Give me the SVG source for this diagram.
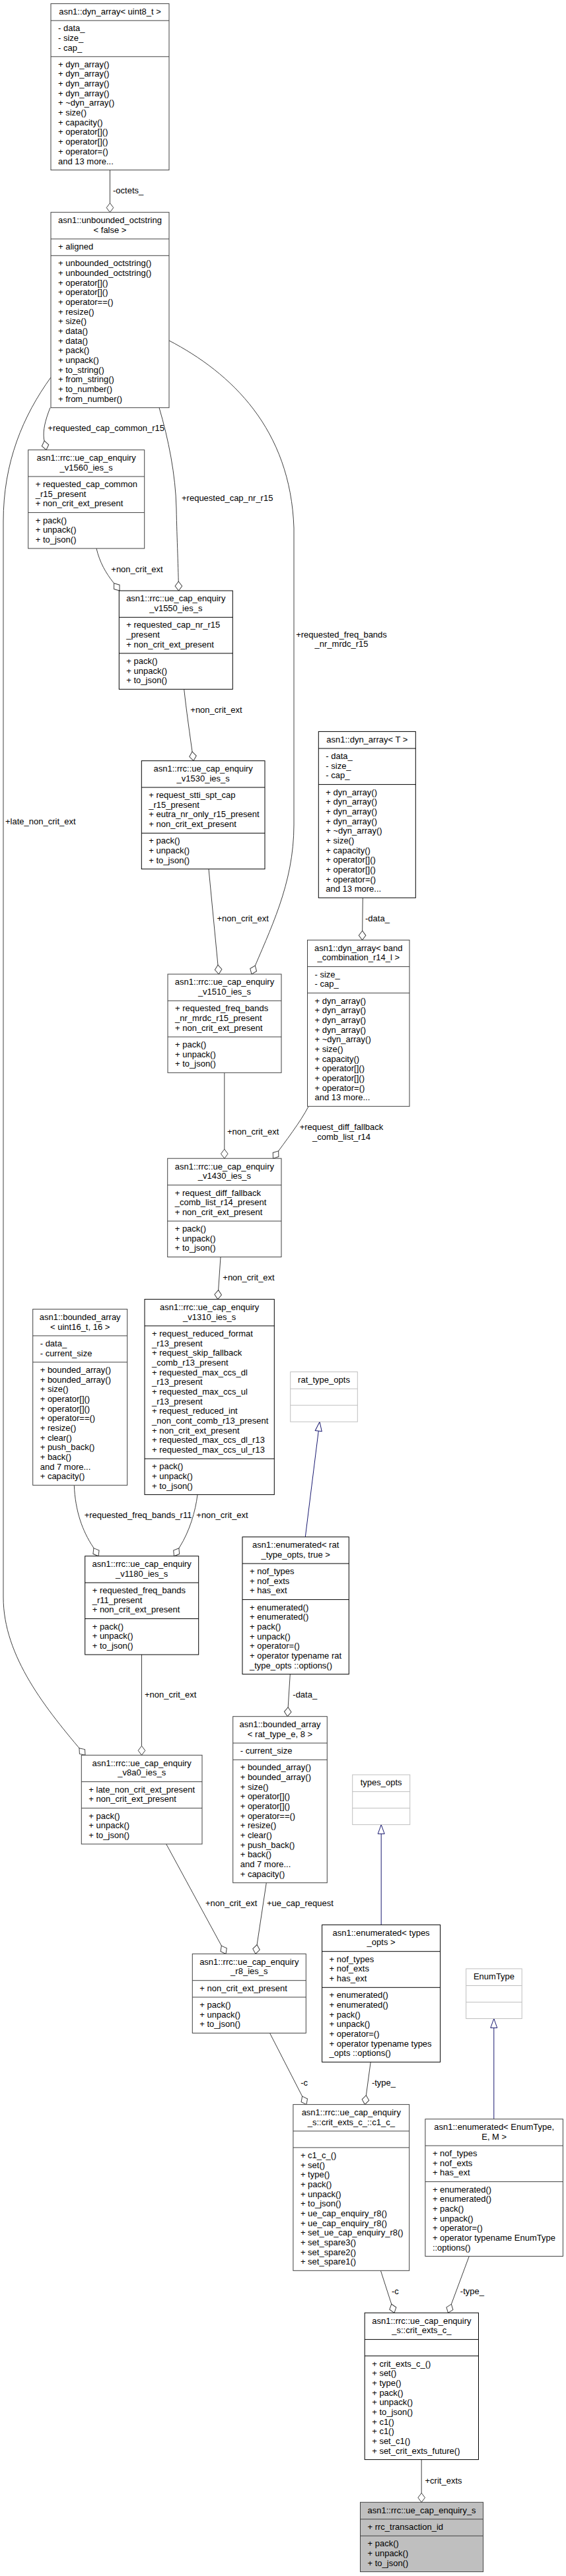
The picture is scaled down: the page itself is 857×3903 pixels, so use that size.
<svg xmlns="http://www.w3.org/2000/svg" width="857" height="3903" viewBox="0 0 857 3903">
<style>
text{font-family:"Liberation Sans",Arial,Helvetica,sans-serif;font-size:13px;fill:#000}
.t{text-anchor:middle}
.k rect,.k path{fill:#fff;stroke:#000;stroke-width:1}
.d rect,.d path{fill:#fff;stroke:#404040;stroke-width:1}
.u rect,.u path{fill:#fff;stroke:#bfbfbf;stroke-width:1}
.r rect{fill:#bfbfbf;stroke:#404040;stroke-width:1}
.r path{fill:none;stroke:#404040;stroke-width:1}
.e{fill:none;stroke:#404040;stroke-width:1;marker-end:url(#dia)}
.i{fill:none;stroke:#191970;stroke-width:1;marker-end:url(#tri)}
</style>
<defs>
<marker id="dia" viewBox="-1 -7 16 14" refX="14" refY="0" markerWidth="16" markerHeight="14" markerUnits="userSpaceOnUse" orient="auto">
<path d="M0,0L7,-5.3L14,0L7,5.3Z" fill="#fff" stroke="#404040" stroke-width="1"/>
</marker>
<marker id="tri" viewBox="-1 -7 16 14" refX="14" refY="0" markerWidth="16" markerHeight="14" markerUnits="userSpaceOnUse" orient="auto">
<path d="M0,-5L14,0L0,5Z" fill="#fff" stroke="#191970" stroke-width="1"/>
</marker>
</defs>
<rect x="0" y="0" width="857" height="3903" fill="#fff"/>

<g id="connectors">
<path class="e" d="M166.5,257.6V321.7"/>
<text x="171" y="293">-octets_</text>
<path class="e" d="M76,617.7C68,638 65,652 66.5,665L70,681.7"/>
<text x="72.3" y="653">+requested_cap_common_r15</text>
<path class="e" d="M241,617.7C255,665 266,720 267,770C268,820 270,860 270.5,895"/>
<text x="275" y="759.3">+requested_cap_nr_r15</text>
<path class="e" d="M146,831C151,852 160,868 172,883L181,895"/>
<text x="168.3" y="867">+non_crit_ext</text>
<path class="e" d="M278.7,1044.3C282,1075 287,1110 293,1152.7"/>
<text x="288.3" y="1080">+non_crit_ext</text>
<path class="e" d="M256,516C350,565 440,650 445,800L445,1250C445,1340 408,1410 381,1476"/>
<text class="t" x="517" y="965.6"><tspan x="517">+requested_freq_bands</tspan><tspan x="517" dy="14.67">_nr_mrdc_r15</tspan></text>
<path class="e" d="M316,1316.7L331.3,1476"/>
<text x="328.5" y="1396">+non_crit_ext</text>
<path class="e" d="M549.3,1360.3L548.5,1424.3"/>
<text x="553" y="1396">-data_</text>
<path class="e" d="M339.8,1625.3V1755.2"/>
<text x="344" y="1718.6">+non_crit_ext</text>
<path class="e" d="M467,1676.5C455,1700 433,1728 413.5,1755.2"/>
<text class="t" x="517" y="1712"><tspan x="517">+request_diff_fallback</tspan><tspan x="517" dy="14.67">_comb_list_r14</tspan></text>
<path class="e" d="M334,1904.5L329.7,1968.6"/>
<text x="337.3" y="1939.7">+non_crit_ext</text>
<path class="e" d="M77,571.7C35,630 5,700 5,790L5,2420C5,2510 70,2590 129,2659.3"/>
<text x="8" y="1249">+late_non_crit_ext</text>
<path class="e" d="M112.3,2250.3C114,2290 125,2320 141,2344L149,2357.7"/>
<text x="127.7" y="2300">+requested_freq_bands_r11</text>
<path class="e" d="M299,2264.6C296,2290 287,2320 272,2344L263.5,2357.7"/>
<text x="297.3" y="2300">+non_crit_ext</text>
<path class="i" d="M462.3,2328.7L484,2154.2"/>
<path class="e" d="M439.3,2536.6L435.3,2600.7"/>
<text x="443.3" y="2572">-data_</text>
<path class="e" d="M214.5,2507V2659.3"/>
<text x="219" y="2572">+non_crit_ext</text>
<path class="e" d="M251.7,2794L342,2960.4"/>
<text x="311" y="2888">+non_crit_ext</text>
<path class="e" d="M403.3,2852.7L387,2960.4"/>
<text x="404" y="2888">+ue_cap_request</text>
<path class="i" d="M577.2,2916.4V2764.6"/>
<path class="e" d="M408.5,3080.4L464,3188.6"/>
<text x="455.2" y="3160.3">-c</text>
<path class="e" d="M561.2,3124.3L552.5,3188.6"/>
<text x="562.9" y="3160.3">-type_</text>
<path class="i" d="M747.8,3210.7V3058.5"/>
<path class="e" d="M576.4,3440.3L597,3504.3"/>
<text x="593" y="3476">-c</text>
<path class="e" d="M710.3,3418.6L678.5,3504.3"/>
<text x="696.8" y="3476">-type_</text>
<path class="e" d="M638.2,3726.6V3791.3"/>
<text x="643.5" y="3763">+crit_exts</text>
</g>

<g id="dyn_array_uint8" class="d">
<rect x="77" y="5.6" width="179" height="252"/>
<path d="M77,31.2H256M77,85.8H256"/>
<text class="t" x="166.5" y="21.9">asn1::dyn_array&lt; uint8_t &gt;</text>
<text x="88" y="47.2"><tspan x="88">- data_</tspan><tspan x="88" dy="14.67">- size_</tspan><tspan x="88" dy="14.67">- cap_</tspan></text>
<text x="88" y="101.8"><tspan x="88">+ dyn_array()</tspan><tspan x="88" dy="14.67">+ dyn_array()</tspan><tspan x="88" dy="14.67">+ dyn_array()</tspan><tspan x="88" dy="14.67">+ dyn_array()</tspan><tspan x="88" dy="14.67">+ ~dyn_array()</tspan><tspan x="88" dy="14.67">+ size()</tspan><tspan x="88" dy="14.67">+ capacity()</tspan><tspan x="88" dy="14.67">+ operator[]()</tspan><tspan x="88" dy="14.67">+ operator[]()</tspan><tspan x="88" dy="14.67">+ operator=()</tspan><tspan x="88" dy="14.67">and 13 more...</tspan></text>
</g>

<g id="unbounded_octstring" class="d">
<rect x="77" y="321.7" width="179" height="296"/>
<path d="M77,362H256M77,387.3H256"/>
<text class="t" x="166.5" y="338"><tspan x="166.5">asn1::unbounded_octstring</tspan><tspan x="166.5" dy="14.67">&lt; false &gt;</tspan></text>
<text x="88" y="378">+ aligned</text>
<text x="88" y="403.3"><tspan x="88">+ unbounded_octstring()</tspan><tspan x="88" dy="14.67">+ unbounded_octstring()</tspan><tspan x="88" dy="14.67">+ operator[]()</tspan><tspan x="88" dy="14.67">+ operator[]()</tspan><tspan x="88" dy="14.67">+ operator==()</tspan><tspan x="88" dy="14.67">+ resize()</tspan><tspan x="88" dy="14.67">+ size()</tspan><tspan x="88" dy="14.67">+ data()</tspan><tspan x="88" dy="14.67">+ data()</tspan><tspan x="88" dy="14.67">+ pack()</tspan><tspan x="88" dy="14.67">+ unpack()</tspan><tspan x="88" dy="14.67">+ to_string()</tspan><tspan x="88" dy="14.67">+ from_string()</tspan><tspan x="88" dy="14.67">+ to_number()</tspan><tspan x="88" dy="14.67">+ from_number()</tspan></text>
</g>

<g id="v1560_ies" class="d">
<rect x="42.7" y="681.7" width="176" height="149.3"/>
<path d="M42.7,722H218.7M42.7,776.6H218.7"/>
<text class="t" x="130.7" y="698"><tspan x="130.7">asn1::rrc::ue_cap_enquiry</tspan><tspan x="130.7" dy="14.67">_v1560_ies_s</tspan></text>
<text x="53.7" y="738"><tspan x="53.7">+ requested_cap_common</tspan><tspan x="53.7" dy="14.67">_r15_present</tspan><tspan x="53.7" dy="14.67">+ non_crit_ext_present</tspan></text>
<text x="53.7" y="792.6"><tspan x="53.7">+ pack()</tspan><tspan x="53.7" dy="14.67">+ unpack()</tspan><tspan x="53.7" dy="14.67">+ to_json()</tspan></text>
</g>

<g id="v1550_ies" class="k">
<rect x="180.3" y="895" width="172" height="149.3"/>
<path d="M180.3,935.3H352.3M180.3,989.9H352.3"/>
<text class="t" x="266.3" y="911.3"><tspan x="266.3">asn1::rrc::ue_cap_enquiry</tspan><tspan x="266.3" dy="14.67">_v1550_ies_s</tspan></text>
<text x="191.3" y="951.3"><tspan x="191.3">+ requested_cap_nr_r15</tspan><tspan x="191.3" dy="14.67">_present</tspan><tspan x="191.3" dy="14.67">+ non_crit_ext_present</tspan></text>
<text x="191.3" y="1005.9"><tspan x="191.3">+ pack()</tspan><tspan x="191.3" dy="14.67">+ unpack()</tspan><tspan x="191.3" dy="14.67">+ to_json()</tspan></text>
</g>

<g id="v1530_ies" class="k">
<rect x="214.3" y="1152.7" width="186.7" height="164"/>
<path d="M214.3,1193H401M214.3,1262.3H401"/>
<text class="t" x="307.7" y="1169"><tspan x="307.7">asn1::rrc::ue_cap_enquiry</tspan><tspan x="307.7" dy="14.67">_v1530_ies_s</tspan></text>
<text x="225.3" y="1209"><tspan x="225.3">+ request_stti_spt_cap</tspan><tspan x="225.3" dy="14.67">_r15_present</tspan><tspan x="225.3" dy="14.67">+ eutra_nr_only_r15_present</tspan><tspan x="225.3" dy="14.67">+ non_crit_ext_present</tspan></text>
<text x="225.3" y="1278.3"><tspan x="225.3">+ pack()</tspan><tspan x="225.3" dy="14.67">+ unpack()</tspan><tspan x="225.3" dy="14.67">+ to_json()</tspan></text>
</g>

<g id="dyn_array_T" class="k">
<rect x="482.3" y="1108.4" width="147" height="251.9"/>
<path d="M482.3,1134H629.3M482.3,1188.6H629.3"/>
<text class="t" x="555.8" y="1124.7">asn1::dyn_array&lt; T &gt;</text>
<text x="493.3" y="1150"><tspan x="493.3">- data_</tspan><tspan x="493.3" dy="14.67">- size_</tspan><tspan x="493.3" dy="14.67">- cap_</tspan></text>
<text x="493.3" y="1204.6"><tspan x="493.3">+ dyn_array()</tspan><tspan x="493.3" dy="14.67">+ dyn_array()</tspan><tspan x="493.3" dy="14.67">+ dyn_array()</tspan><tspan x="493.3" dy="14.67">+ dyn_array()</tspan><tspan x="493.3" dy="14.67">+ ~dyn_array()</tspan><tspan x="493.3" dy="14.67">+ size()</tspan><tspan x="493.3" dy="14.67">+ capacity()</tspan><tspan x="493.3" dy="14.67">+ operator[]()</tspan><tspan x="493.3" dy="14.67">+ operator[]()</tspan><tspan x="493.3" dy="14.67">+ operator=()</tspan><tspan x="493.3" dy="14.67">and 13 more...</tspan></text>
</g>

<g id="dyn_array_band_combination" class="d">
<rect x="465.5" y="1424.3" width="154.5" height="252"/>
<path d="M465.5,1464.6H620M465.5,1504.6H620"/>
<text class="t" x="542.8" y="1440.6"><tspan x="542.8">asn1::dyn_array&lt; band</tspan><tspan x="542.8" dy="14.67">_combination_r14_l &gt;</tspan></text>
<text x="476.5" y="1480.6"><tspan x="476.5">- size_</tspan><tspan x="476.5" dy="14.67">- cap_</tspan></text>
<text x="476.5" y="1520.6"><tspan x="476.5">+ dyn_array()</tspan><tspan x="476.5" dy="14.67">+ dyn_array()</tspan><tspan x="476.5" dy="14.67">+ dyn_array()</tspan><tspan x="476.5" dy="14.67">+ dyn_array()</tspan><tspan x="476.5" dy="14.67">+ ~dyn_array()</tspan><tspan x="476.5" dy="14.67">+ size()</tspan><tspan x="476.5" dy="14.67">+ capacity()</tspan><tspan x="476.5" dy="14.67">+ operator[]()</tspan><tspan x="476.5" dy="14.67">+ operator[]()</tspan><tspan x="476.5" dy="14.67">+ operator=()</tspan><tspan x="476.5" dy="14.67">and 13 more...</tspan></text>
</g>

<g id="v1510_ies" class="d">
<rect x="254" y="1476" width="172" height="149.3"/>
<path d="M254,1516.3H426M254,1571H426"/>
<text class="t" x="340" y="1492.3"><tspan x="340">asn1::rrc::ue_cap_enquiry</tspan><tspan x="340" dy="14.67">_v1510_ies_s</tspan></text>
<text x="265" y="1532.3"><tspan x="265">+ requested_freq_bands</tspan><tspan x="265" dy="14.67">_nr_mrdc_r15_present</tspan><tspan x="265" dy="14.67">+ non_crit_ext_present</tspan></text>
<text x="265" y="1587"><tspan x="265">+ pack()</tspan><tspan x="265" dy="14.67">+ unpack()</tspan><tspan x="265" dy="14.67">+ to_json()</tspan></text>
</g>

<g id="v1430_ies" class="d">
<rect x="253.7" y="1755.2" width="172.3" height="149.3"/>
<path d="M253.7,1795.5H426M253.7,1850.1H426"/>
<text class="t" x="339.9" y="1771.5"><tspan x="339.9">asn1::rrc::ue_cap_enquiry</tspan><tspan x="339.9" dy="14.67">_v1430_ies_s</tspan></text>
<text x="264.7" y="1811.5"><tspan x="264.7">+ request_diff_fallback</tspan><tspan x="264.7" dy="14.67">_comb_list_r14_present</tspan><tspan x="264.7" dy="14.67">+ non_crit_ext_present</tspan></text>
<text x="264.7" y="1866.1"><tspan x="264.7">+ pack()</tspan><tspan x="264.7" dy="14.67">+ unpack()</tspan><tspan x="264.7" dy="14.67">+ to_json()</tspan></text>
</g>

<g id="v1310_ies" class="k">
<rect x="219" y="1968.6" width="196.3" height="296"/>
<path d="M219,2008.9H415.3M219,2210.2H415.3"/>
<text class="t" x="317.2" y="1984.9"><tspan x="317.2">asn1::rrc::ue_cap_enquiry</tspan><tspan x="317.2" dy="14.67">_v1310_ies_s</tspan></text>
<text x="230" y="2024.9"><tspan x="230">+ request_reduced_format</tspan><tspan x="230" dy="14.67">_r13_present</tspan><tspan x="230" dy="14.67">+ request_skip_fallback</tspan><tspan x="230" dy="14.67">_comb_r13_present</tspan><tspan x="230" dy="14.67">+ requested_max_ccs_dl</tspan><tspan x="230" dy="14.67">_r13_present</tspan><tspan x="230" dy="14.67">+ requested_max_ccs_ul</tspan><tspan x="230" dy="14.67">_r13_present</tspan><tspan x="230" dy="14.67">+ request_reduced_int</tspan><tspan x="230" dy="14.67">_non_cont_comb_r13_present</tspan><tspan x="230" dy="14.67">+ non_crit_ext_present</tspan><tspan x="230" dy="14.67">+ requested_max_ccs_dl_r13</tspan><tspan x="230" dy="14.67">+ requested_max_ccs_ul_r13</tspan></text>
<text x="230" y="2226.2"><tspan x="230">+ pack()</tspan><tspan x="230" dy="14.67">+ unpack()</tspan><tspan x="230" dy="14.67">+ to_json()</tspan></text>
</g>

<g id="bounded_array_uint16" class="d">
<rect x="49.7" y="1983.6" width="143" height="266.7"/>
<path d="M49.7,2023.9H192.7M49.7,2063.9H192.7"/>
<text class="t" x="121.2" y="1999.9"><tspan x="121.2">asn1::bounded_array</tspan><tspan x="121.2" dy="14.67">&lt; uint16_t, 16 &gt;</tspan></text>
<text x="60.7" y="2039.9"><tspan x="60.7">- data_</tspan><tspan x="60.7" dy="14.67">- current_size</tspan></text>
<text x="60.7" y="2079.9"><tspan x="60.7">+ bounded_array()</tspan><tspan x="60.7" dy="14.67">+ bounded_array()</tspan><tspan x="60.7" dy="14.67">+ size()</tspan><tspan x="60.7" dy="14.67">+ operator[]()</tspan><tspan x="60.7" dy="14.67">+ operator[]()</tspan><tspan x="60.7" dy="14.67">+ operator==()</tspan><tspan x="60.7" dy="14.67">+ resize()</tspan><tspan x="60.7" dy="14.67">+ clear()</tspan><tspan x="60.7" dy="14.67">+ push_back()</tspan><tspan x="60.7" dy="14.67">+ back()</tspan><tspan x="60.7" dy="14.67">and 7 more...</tspan><tspan x="60.7" dy="14.67">+ capacity()</tspan></text>
</g>

<g id="rat_type_opts" class="u">
<rect x="439.7" y="2078.6" width="101.6" height="75.6"/>
<path d="M439.7,2104.2H541.3M439.7,2129.2H541.3"/>
<text class="t" x="490.5" y="2094.9">rat_type_opts</text>
</g>

<g id="enumerated_rat_type_opts" class="k">
<rect x="367" y="2328.7" width="161.3" height="207.9"/>
<path d="M367,2369H528.3M367,2423.6H528.3"/>
<text class="t" x="447.7" y="2345"><tspan x="447.7">asn1::enumerated&lt; rat</tspan><tspan x="447.7" dy="14.67">_type_opts, true &gt;</tspan></text>
<text x="378" y="2385"><tspan x="378">+ nof_types</tspan><tspan x="378" dy="14.67">+ nof_exts</tspan><tspan x="378" dy="14.67">+ has_ext</tspan></text>
<text x="378" y="2439.6"><tspan x="378">+ enumerated()</tspan><tspan x="378" dy="14.67">+ enumerated()</tspan><tspan x="378" dy="14.67">+ pack()</tspan><tspan x="378" dy="14.67">+ unpack()</tspan><tspan x="378" dy="14.67">+ operator=()</tspan><tspan x="378" dy="14.67">+ operator typename rat</tspan><tspan x="378" dy="14.67">_type_opts ::options()</tspan></text>
</g>

<g id="v1180_ies" class="k">
<rect x="128.7" y="2357.7" width="172" height="149.3"/>
<path d="M128.7,2398H300.7M128.7,2452.6H300.7"/>
<text class="t" x="214.7" y="2374"><tspan x="214.7">asn1::rrc::ue_cap_enquiry</tspan><tspan x="214.7" dy="14.67">_v1180_ies_s</tspan></text>
<text x="139.7" y="2414"><tspan x="139.7">+ requested_freq_bands</tspan><tspan x="139.7" dy="14.67">_r11_present</tspan><tspan x="139.7" dy="14.67">+ non_crit_ext_present</tspan></text>
<text x="139.7" y="2468.6"><tspan x="139.7">+ pack()</tspan><tspan x="139.7" dy="14.67">+ unpack()</tspan><tspan x="139.7" dy="14.67">+ to_json()</tspan></text>
</g>

<g id="bounded_array_rat_type_e" class="d">
<rect x="352.7" y="2600.7" width="142.6" height="252"/>
<path d="M352.7,2641H495.3M352.7,2666.3H495.3"/>
<text class="t" x="424" y="2617"><tspan x="424">asn1::bounded_array</tspan><tspan x="424" dy="14.67">&lt; rat_type_e, 8 &gt;</tspan></text>
<text x="363.7" y="2657">- current_size</text>
<text x="363.7" y="2682.3"><tspan x="363.7">+ bounded_array()</tspan><tspan x="363.7" dy="14.67">+ bounded_array()</tspan><tspan x="363.7" dy="14.67">+ size()</tspan><tspan x="363.7" dy="14.67">+ operator[]()</tspan><tspan x="363.7" dy="14.67">+ operator[]()</tspan><tspan x="363.7" dy="14.67">+ operator==()</tspan><tspan x="363.7" dy="14.67">+ resize()</tspan><tspan x="363.7" dy="14.67">+ clear()</tspan><tspan x="363.7" dy="14.67">+ push_back()</tspan><tspan x="363.7" dy="14.67">+ back()</tspan><tspan x="363.7" dy="14.67">and 7 more...</tspan><tspan x="363.7" dy="14.67">+ capacity()</tspan></text>
</g>

<g id="v8a0_ies" class="d">
<rect x="123.3" y="2659.3" width="182.7" height="134.7"/>
<path d="M123.3,2699.6H306M123.3,2739.6H306"/>
<text class="t" x="214.7" y="2675.6"><tspan x="214.7">asn1::rrc::ue_cap_enquiry</tspan><tspan x="214.7" dy="14.67">_v8a0_ies_s</tspan></text>
<text x="134.3" y="2715.6"><tspan x="134.3">+ late_non_crit_ext_present</tspan><tspan x="134.3" dy="14.67">+ non_crit_ext_present</tspan></text>
<text x="134.3" y="2755.6"><tspan x="134.3">+ pack()</tspan><tspan x="134.3" dy="14.67">+ unpack()</tspan><tspan x="134.3" dy="14.67">+ to_json()</tspan></text>
</g>

<g id="types_opts" class="u">
<rect x="533.7" y="2689" width="87" height="75.6"/>
<path d="M533.7,2714.6H620.7M533.7,2739.6H620.7"/>
<text class="t" x="577.2" y="2705.3">types_opts</text>
</g>

<g id="enumerated_types_opts" class="k">
<rect x="487.6" y="2916.4" width="179" height="207.9"/>
<path d="M487.6,2956.7H666.6M487.6,3011.3H666.6"/>
<text class="t" x="577.1" y="2932.7"><tspan x="577.1">asn1::enumerated&lt; types</tspan><tspan x="577.1" dy="14.67">_opts &gt;</tspan></text>
<text x="498.6" y="2972.7"><tspan x="498.6">+ nof_types</tspan><tspan x="498.6" dy="14.67">+ nof_exts</tspan><tspan x="498.6" dy="14.67">+ has_ext</tspan></text>
<text x="498.6" y="3027.3"><tspan x="498.6">+ enumerated()</tspan><tspan x="498.6" dy="14.67">+ enumerated()</tspan><tspan x="498.6" dy="14.67">+ pack()</tspan><tspan x="498.6" dy="14.67">+ unpack()</tspan><tspan x="498.6" dy="14.67">+ operator=()</tspan><tspan x="498.6" dy="14.67">+ operator typename types</tspan><tspan x="498.6" dy="14.67">_opts ::options()</tspan></text>
</g>

<g id="r8_ies" class="d">
<rect x="291.3" y="2960.4" width="172" height="120"/>
<path d="M291.3,3000.7H463.3M291.3,3026H463.3"/>
<text class="t" x="377.3" y="2976.7"><tspan x="377.3">asn1::rrc::ue_cap_enquiry</tspan><tspan x="377.3" dy="14.67">_r8_ies_s</tspan></text>
<text x="302.3" y="3016.7">+ non_crit_ext_present</text>
<text x="302.3" y="3042"><tspan x="302.3">+ pack()</tspan><tspan x="302.3" dy="14.67">+ unpack()</tspan><tspan x="302.3" dy="14.67">+ to_json()</tspan></text>
</g>

<g id="EnumType" class="u">
<rect x="705.7" y="2982.9" width="84.5" height="75.6"/>
<path d="M705.7,3008.5H790.2M705.7,3033.5H790.2"/>
<text class="t" x="748" y="2999.2">EnumType</text>
</g>

<g id="c1_c" class="d">
<rect x="443.9" y="3188.6" width="175.8" height="251.7"/>
<path d="M443.9,3228.9H619.7M443.9,3253.9H619.7"/>
<text class="t" x="531.8" y="3204.9"><tspan x="531.8">asn1::rrc::ue_cap_enquiry</tspan><tspan x="531.8" dy="14.67">_s::crit_exts_c_::c1_c_</tspan></text>
<text x="454.9" y="3269.9"><tspan x="454.9">+ c1_c_()</tspan><tspan x="454.9" dy="14.67">+ set()</tspan><tspan x="454.9" dy="14.67">+ type()</tspan><tspan x="454.9" dy="14.67">+ pack()</tspan><tspan x="454.9" dy="14.67">+ unpack()</tspan><tspan x="454.9" dy="14.67">+ to_json()</tspan><tspan x="454.9" dy="14.67">+ ue_cap_enquiry_r8()</tspan><tspan x="454.9" dy="14.67">+ ue_cap_enquiry_r8()</tspan><tspan x="454.9" dy="14.67">+ set_ue_cap_enquiry_r8()</tspan><tspan x="454.9" dy="14.67">+ set_spare3()</tspan><tspan x="454.9" dy="14.67">+ set_spare2()</tspan><tspan x="454.9" dy="14.67">+ set_spare1()</tspan></text>
</g>

<g id="enumerated_EnumType" class="d">
<rect x="643.9" y="3210.7" width="208.5" height="207.9"/>
<path d="M643.9,3251H852.4M643.9,3305.6H852.4"/>
<text class="t" x="748.2" y="3227"><tspan x="748.2">asn1::enumerated&lt; EnumType,</tspan><tspan x="748.2" dy="14.67">E, M &gt;</tspan></text>
<text x="654.9" y="3267"><tspan x="654.9">+ nof_types</tspan><tspan x="654.9" dy="14.67">+ nof_exts</tspan><tspan x="654.9" dy="14.67">+ has_ext</tspan></text>
<text x="654.9" y="3321.6"><tspan x="654.9">+ enumerated()</tspan><tspan x="654.9" dy="14.67">+ enumerated()</tspan><tspan x="654.9" dy="14.67">+ pack()</tspan><tspan x="654.9" dy="14.67">+ unpack()</tspan><tspan x="654.9" dy="14.67">+ operator=()</tspan><tspan x="654.9" dy="14.67">+ operator typename EnumType</tspan><tspan x="654.9" dy="14.67">::options()</tspan></text>
</g>

<g id="crit_exts_c" class="k">
<rect x="552.2" y="3504.3" width="172.3" height="222.3"/>
<path d="M552.2,3544.6H724.5M552.2,3569.6H724.5"/>
<text class="t" x="638.4" y="3520.6"><tspan x="638.4">asn1::rrc::ue_cap_enquiry</tspan><tspan x="638.4" dy="14.67">_s::crit_exts_c_</tspan></text>
<text x="563.2" y="3585.6"><tspan x="563.2">+ crit_exts_c_()</tspan><tspan x="563.2" dy="14.67">+ set()</tspan><tspan x="563.2" dy="14.67">+ type()</tspan><tspan x="563.2" dy="14.67">+ pack()</tspan><tspan x="563.2" dy="14.67">+ unpack()</tspan><tspan x="563.2" dy="14.67">+ to_json()</tspan><tspan x="563.2" dy="14.67">+ c1()</tspan><tspan x="563.2" dy="14.67">+ c1()</tspan><tspan x="563.2" dy="14.67">+ set_c1()</tspan><tspan x="563.2" dy="14.67">+ set_crit_exts_future()</tspan></text>
</g>

<g id="ue_cap_enquiry_s" class="r">
<rect x="545.5" y="3791.3" width="186.1" height="105.3"/>
<path d="M545.5,3816.9H731.6M545.5,3842.2H731.6"/>
<text class="t" x="638.6" y="3807.6">asn1::rrc::ue_cap_enquiry_s</text>
<text x="556.5" y="3832.9">+ rrc_transaction_id</text>
<text x="556.5" y="3858.2"><tspan x="556.5">+ pack()</tspan><tspan x="556.5" dy="14.67">+ unpack()</tspan><tspan x="556.5" dy="14.67">+ to_json()</tspan></text>
</g>
</svg>
